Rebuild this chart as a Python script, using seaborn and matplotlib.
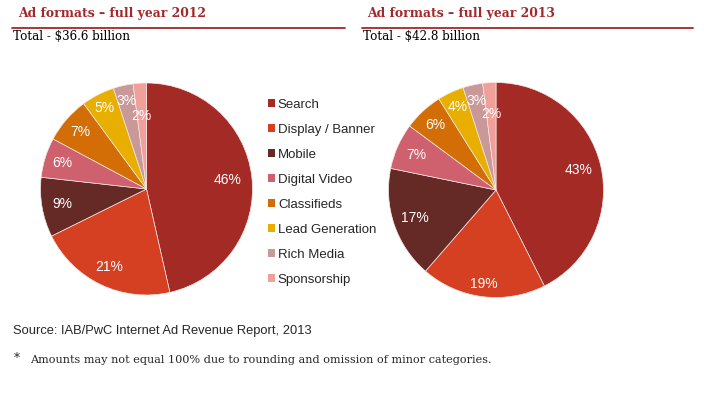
import matplotlib
matplotlib.use("Agg")
import numpy as np
import matplotlib.pyplot as plt
import seaborn as sns
from matplotlib.patches import Patch

# -------------------------
# Data
# -------------------------
formats = ["Search", "Display / Banner", "Mobile", "Digital Video",
           "Classifieds", "Lead Generation", "Rich Media", "Sponsorship"]
share_2012 = [46, 21, 9, 6, 7, 5, 3, 2]
share_2013 = [43, 19, 17, 7, 6, 4, 3, 2]
titles = ["Ad formats \u2013 full year 2012", "Ad formats \u2013 full year 2013"]
totals = ["Total - $36.6 billion", "Total - $42.8 billion"]

colors = ["#A42A25", "#D53F22", "#652A26", "#CF606E",
          "#D26E05", "#E8AE00", "#C99898", "#EFA09A"]
title_red = "#A3282A"

# label distance from centre (fraction of radius), per slice
label_r_2012 = [0.77, 0.82, 0.81, 0.83, 0.82, 0.86, 0.85, 0.69]
label_r_2013 = [0.79, 0.88, 0.80, 0.81, 0.83, 0.85, 0.85, 0.71]

sns.set_theme(style="white")
plt.rcParams["font.family"] = ["Liberation Sans", "DejaVu Sans"]

W, H = 720, 394
fig = plt.figure(figsize=(W / 100, H / 100), dpi=100)


def px_axes(cx, cy, r):
    return fig.add_axes([(cx - r) / W, (H - cy - r) / H, 2 * r / W, 2 * r / H])


def draw_pie(ax, values, label_r):
    wedges, _, autotexts = ax.pie(
        values, colors=colors, startangle=90, counterclock=False,
        autopct=lambda p: f"{p * sum(values) / 100:.0f}%",
        pctdistance=0.8, radius=1,
        wedgeprops=dict(linewidth=0.5, edgecolor="#f4e8e6"),
        textprops=dict(color="white", fontsize=10))
    for w, t, d in zip(wedges, autotexts, label_r):
        ang = np.deg2rad((w.theta1 + w.theta2) / 2)
        t.set_position((d * np.cos(ang), d * np.sin(ang)))
    ax.set_xlim(-1, 1)
    ax.set_ylim(-1, 1)
    ax.set_aspect("equal")
    ax.axis("off")


ax1 = px_axes(146.5, 189, 106)
draw_pie(ax1, share_2012, label_r_2012)
ax2 = px_axes(496, 190, 107.5)
draw_pie(ax2, share_2013, label_r_2013)

# headers
serif = ["DejaVu Serif"]
for x0, x1, tx, title, total in [(12, 345, 18, titles[0], totals[0]),
                                 (362, 693, 367, titles[1], totals[1])]:
    fig.add_artist(plt.Line2D([x0 / W, x1 / W], [1 - 28 / H, 1 - 28 / H],
                              color=title_red, linewidth=1.3))
    fig.text(tx / W, 1 - 14 / H, title, color=title_red, fontsize=8.9,
             fontweight="bold", family=serif, va="center", ha="left")
    fig.text((x0 + 1) / W, 1 - 37 / H, total, color="black", fontsize=8.6,
             family=serif, va="center", ha="left")

# legend
handles = [Patch(facecolor=c, edgecolor="none") for c in colors]
fig.legend(handles, formats, loc="upper left",
           bbox_to_anchor=(268 / W, 1 - 98.5 / H), frameon=False,
           fontsize=9.5, handlelength=0.55, handleheight=0.55,
           handletextpad=0.2, labelspacing=0.99, borderaxespad=0,
           borderpad=0)

# footer
fig.text(13 / W, 1 - 331 / H, "Source: IAB/PwC Internet Ad Revenue Report, 2013",
         fontsize=9.25, va="center", ha="left")
fig.text(14 / W, 1 - 358 / H, "*", fontsize=8.5, family=serif, va="center")
fig.text(30 / W, 1 - 360 / H,
         "Amounts may not equal 100% due to rounding and omission of minor categories.",
         fontsize=8.1, family=serif, va="center", ha="left")

fig.savefig("out.png", dpi=100)
